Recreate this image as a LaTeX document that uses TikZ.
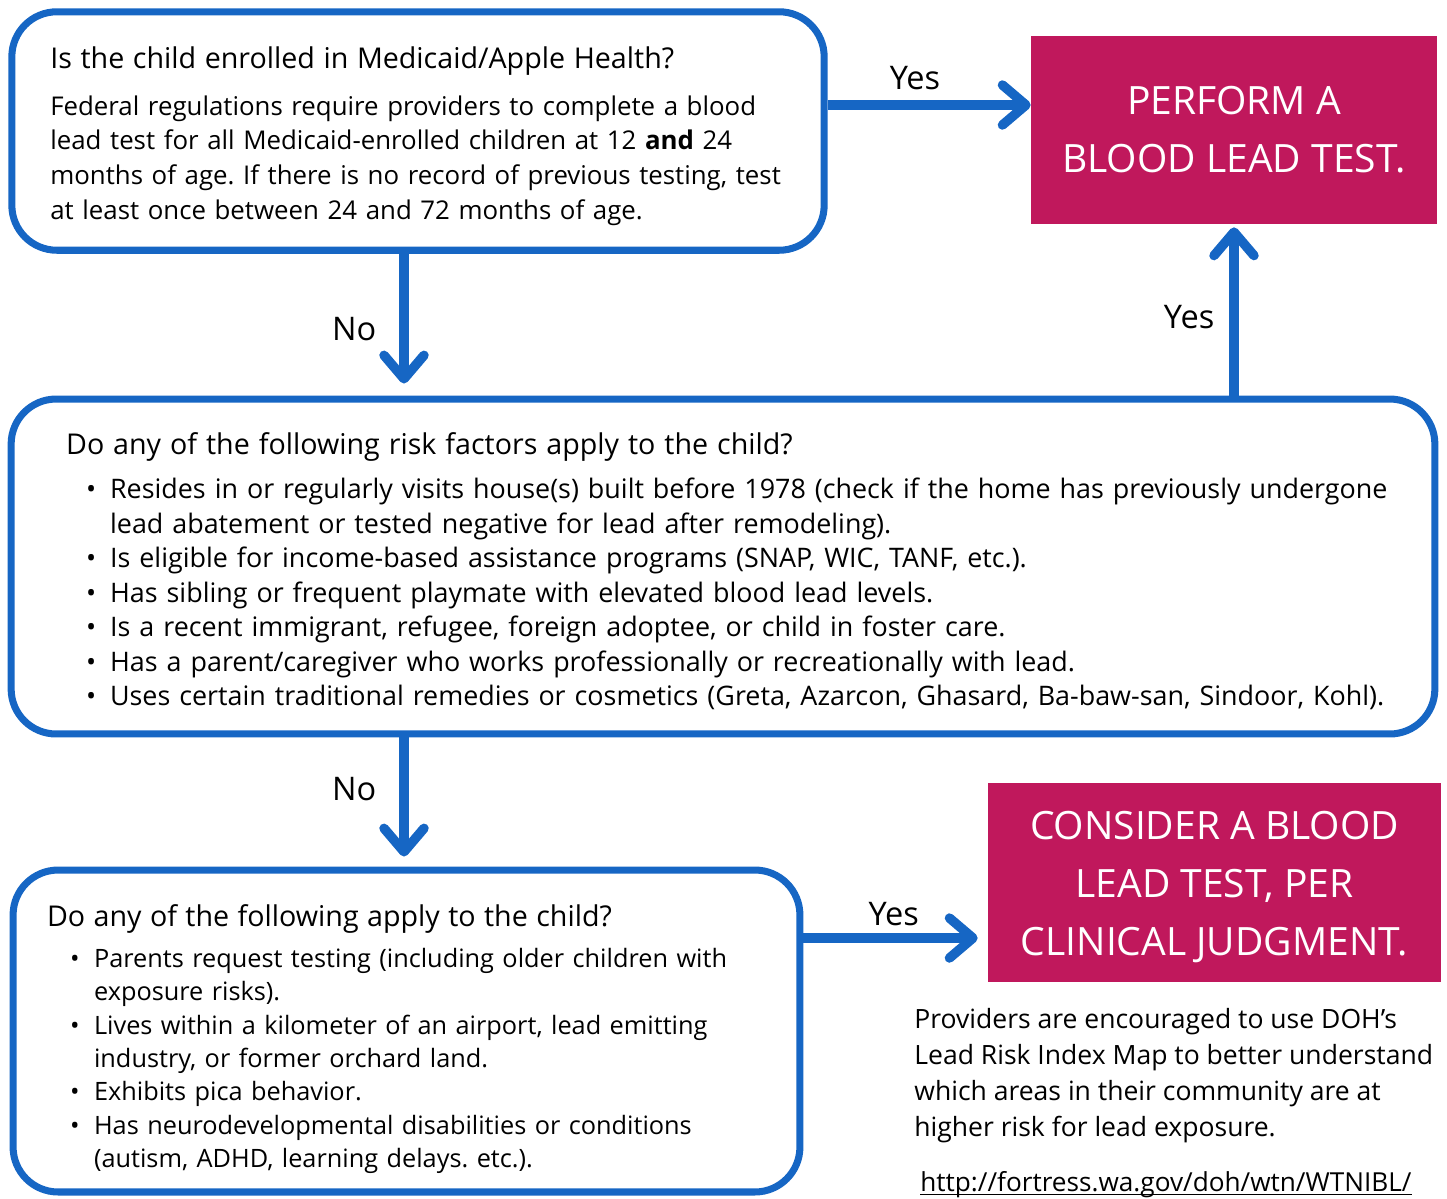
\documentclass[tikz,border=0pt]{standalone}
\usepackage{fontspec}
\setmainfont{Open Sans}
\usepackage{xcolor}
\usepackage{tikz}
\usetikzlibrary{arrows.meta,positioning}

\definecolor{flowblue}{RGB}{22,102,196}
\definecolor{leadred}{RGB}{192,24,92}

\frenchspacing
\newcommand{\askfont}{\fontsize{16.3}{19.8}\selectfont}
\newsavebox{\linkbox}
\newcommand{\weblink}[1]{\sbox{\linkbox}{#1}\rlap{\rule[-2.4pt]{\wd\linkbox}{0.9pt}}\usebox{\linkbox}}

\begin{document}
\begin{tikzpicture}[
        x=0.02cm, y=-0.02cm,
        qbox/.style={rectangle, draw=flowblue, line width=4pt, rounded corners=0.9cm, align=left, inner ysep=0pt},
        testbox/.style={rectangle, fill=leadred, text=white, align=center, inner sep=0pt, font=\fontsize{22.2}{33}\selectfont},
        flow/.style={draw=flowblue, line width=5.4pt, -{Straight Barb[length=0.47cm, width=0.8cm, round]}},
        lbl/.style={inner sep=0pt, font=\fontsize{18.5}{20}\selectfont},
        note/.style={align=left, inner sep=0pt, font=\fontsize{15.1}{20.5}\selectfont}
    ]
        \useasboundingbox (0,0) rectangle (1447,1198);

        \node[qbox, font=\fontsize{14.7}{19.8}\selectfont, minimum width=16.25cm, minimum height=4.77cm, inner xsep=0.77cm, text width=14.71cm] (q1) at (418,131) {%
            {\askfont\rule{0pt}{20.5pt}Is the child enrolled in Medicaid/Apple Health?}\\[7pt]
            \begin{tabular}[t]{@{}l@{}}
                Federal regulations require providers to complete a blood\\
                lead test for all Medicaid-enrolled children at 12 \textbf{and} 24\\
                months of age. If there is no record of previous testing, test\\
                at least once between 24 and 72 months of age.
            \end{tabular}};
        \node[testbox, minimum width=8.12cm, minimum height=3.76cm] (perform) at (1234,130) {PERFORM A\\BLOOD LEAD TEST.};

        \node[qbox, font=\fontsize{15.3}{19.6}\selectfont, minimum width=28.48cm, minimum height=6.7cm, inner xsep=1.1cm, text width=26.28cm] (q2) at (723,566.5) {%
            {\askfont\rule{0pt}{21.5pt}Do any of the following risk factors apply to the child?}\\[5.4pt]
            \hspace*{0.4cm}\begin{tabular}[t]{@{}p{0.48cm}@{}l@{}}
                \textbullet & Resides in or regularly visits house(s) built before 1978 (check if the home has previously undergone\\
                & lead abatement or tested negative for lead after remodeling).\\
                \textbullet & Is eligible for income-based assistance programs (SNAP, WIC, TANF, etc.).\\
                \textbullet & Has sibling or frequent playmate with elevated blood lead levels.\\
                \textbullet & Is a recent immigrant, refugee, foreign adoptee, or child in foster care.\\
                \textbullet & Has a parent/caregiver who works professionally or recreationally with lead.\\
                \textbullet & Uses certain traditional remedies or cosmetics (Greta, Azarcon, Ghasard, Ba-baw-san, Sindoor, Kohl).
            \end{tabular}};

        \node[qbox, font=\fontsize{14.4}{19}\selectfont, minimum width=15.74cm, minimum height=6.44cm, inner xsep=0.68cm, text width=14.38cm] (q3) at (406.5,1031) {%
            {\askfont\rule{0pt}{23.8pt}Do any of the following apply to the child?}\\[4.3pt]
            \hspace*{0.46cm}\begin{tabular}[t]{@{}p{0.48cm}@{}l@{}}
                \textbullet & Parents request testing (including older children with\\
                & exposure risks).\\
                \textbullet & Lives within a kilometer of an airport, lead emitting\\
                & industry, or former orchard land.\\
                \textbullet & Exhibits pica behavior.\\
                \textbullet & Has neurodevelopmental disabilities or conditions\\
                & (autism, ADHD, learning delays. etc.).
            \end{tabular}};
        \node[testbox, minimum width=9.06cm, minimum height=3.98cm] (consider) at (1214.5,882.5) {\rule{0pt}{21.6pt}CONSIDER A BLOOD\\LEAD TEST, PER\\CLINICAL JUDGMENT.};

        \node[note, anchor=north west] (map) at (914,1008) {Providers are encouraged to use DOH's\\Lead Risk Index Map to better understand\\which areas in their community are at\\higher risk for lead exposure.};
        \node[note, font=\fontsize{14.9}{20.5}\selectfont, below right=0.55cm and 0.12cm of map.south west] (link) {\weblink{http://fortress.wa.gov/doh/wtn/WTNIBL/}};

        % yes / no branches
        \coordinate (yes1) at ([yshift=0.52cm]q1.east);
        \coordinate (no1) at ([xshift=-0.28cm]q1.south);
        \coordinate (yes3) at ([yshift=1.86cm]q3.east);
        \draw[flow] (yes1) -- (yes1 -| perform.west) node[lbl, pos=0.43, above=0.2cm] {Yes};
        \draw[flow, shorten >=0.24cm] (no1) -- (no1 |- q2.north) node[lbl, pos=0.53, left=0.46cm] {No};
        \draw[flow, shorten >=0.06cm] (perform.south |- q2.north) -- (perform.south) node[lbl, pos=0.46, left=0.3cm] {Yes};
        \draw[flow, shorten >=0.2cm] (no1 |- q2.south) -- (no1 |- q3.north) node[lbl, pos=0.4, left=0.46cm] {No};
        \draw[flow, shorten >=0.2cm] (yes3) -- (yes3 -| consider.west) node[lbl, pos=0.49, above=0.14cm] {Yes};
    \end{tikzpicture}
\end{document}
